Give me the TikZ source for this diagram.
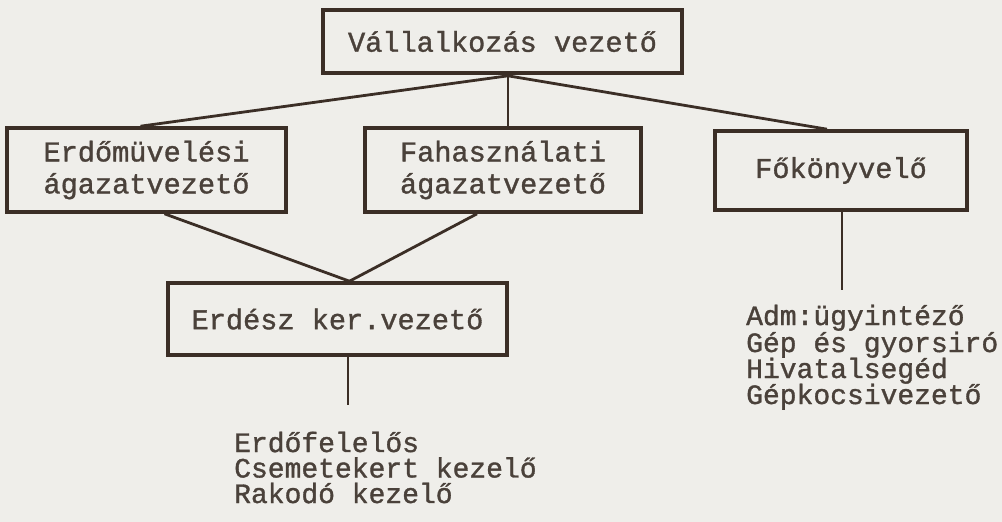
\documentclass[tikz,border=0pt]{standalone}
\usepackage{fontspec}
\setmonofont{Liberation Mono}[FakeBold=1.2]
\usetikzlibrary{calc}
\definecolor{ink}{HTML}{3B2E26}
\definecolor{typeink}{HTML}{4A413A}
\definecolor{paper}{HTML}{EFEEEA}
\tikzset{
  orgbox/.style={draw=ink, line width=3.6pt, rectangle, inner sep=0pt,
    text=typeink, font=\ttfamily\fontsize{28.6}{32}\selectfont, align=center},
  conn/.style={draw=ink, line width=2.8pt},
  listline/.style={anchor=base west, inner sep=0pt, text=typeink,
    font=\ttfamily\fontsize{28}{26}\selectfont}
}
\begin{document}
\begin{tikzpicture}[x=1pt,y=-1pt]
\fill[paper] (0,0) rectangle (1002,522);
\useasboundingbox (0,0) rectangle (1002,522);

\node[orgbox, minimum width=359pt, minimum height=63pt] (top) at (502.5,41.5) {V\'allalkoz\'as vezet\H{o}};
\node[orgbox, minimum width=279pt, minimum height=84pt] (erd) at (146.5,170) {Erd\H{o}m\"uvel\'esi\\\'agazatvezet\H{o}};
\node[orgbox, minimum width=276pt, minimum height=84pt] (fah) at (503,170) {Fahaszn\'alati\\\'agazatvezet\H{o}};
\node[orgbox, minimum width=252pt, minimum height=79pt] (fk) at (841,170.5) {F\H{o}k\"onyvel\H{o}};
\node[orgbox, minimum width=339pt, minimum height=72pt] (ker) at (337.5,319) {Erd\'esz ker.vezet\H{o}};

% lists
\node[listline] (a1) at (234,452) {Erd\H{o}felel\H{o}s};
\node[listline] (a2) at (234,477.5) {Csemetekert kezel\H{o}};
\node[listline] (a3) at (234,503) {Rakod\'o kezel\H{o}};

\node[listline] (b1) at (746,325) {Adm:\"ugyint\'ez\H{o}};
\node[listline] (b2) at (746,352) {G\'ep \'es gyorsir\'o};
\node[listline] (b3) at (746,378) {Hivatalseg\'ed};
\node[listline] (b4) at (746,404) {G\'epkocsivezet\H{o}};

\coordinate (hub) at ($(top.south)+(5.5,1)$);
\coordinate (kerend) at (348,405);
\coordinate (fkend) at (842,290);

\draw[conn] (hub) -- ($(erd.north)+(-6,0)$);
\draw[conn] (hub) -- (hub |- fah.north);
\draw[conn] (hub) -- ($(fk.north)+(-14,0)$);
\draw[conn] ($(erd.south)+(18,0)$) -- ($(ker.north)+(12,0)$);
\draw[conn] ($(fah.south)+(-26,0)$) -- ($(ker.north)+(12,0)$);
\draw[conn] (ker.south -| kerend) -- (kerend);
\draw[conn] (fk.south -| fkend) -- (fkend);
\end{tikzpicture}
\end{document}
